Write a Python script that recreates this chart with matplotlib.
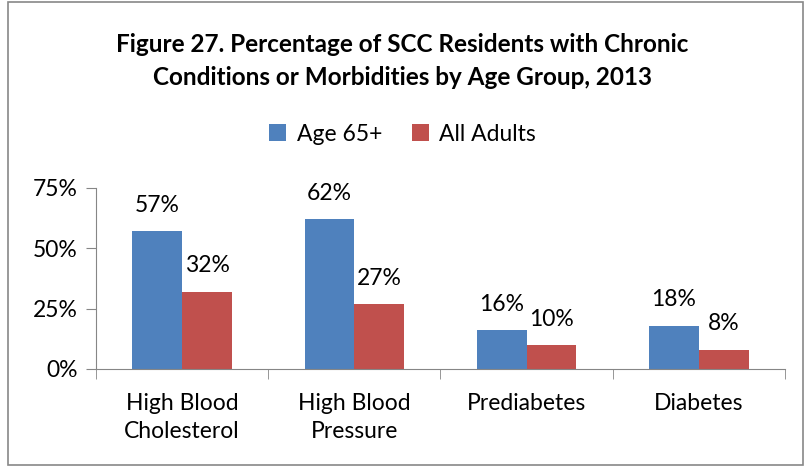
import matplotlib.pyplot as plt
import numpy as np
from matplotlib.patches import Rectangle

categories = ['High Blood\nCholesterol', 'High Blood\nPressure', 'Prediabetes', 'Diabetes']
age65 = [57, 62, 16, 18]
all_adults = [32, 27, 10, 8]
series_names = ['Age 65+', 'All Adults']
colors = ['#4F81BD', '#C0504D']

plt.rcParams['font.family'] = ['Lato', 'DejaVu Sans']

fig = plt.figure(figsize=(8.05, 4.67), dpi=100)
ax = fig.add_axes([0.1193, 0.2099, 0.8557, 0.3876])

x = np.arange(len(categories))
w = 0.289
ax.bar(x - w / 2, age65, w, color=colors[0], label=series_names[0])
ax.bar(x + w / 2, all_adults, w, color=colors[1], label=series_names[1])

for xi, v in zip(x - w / 2, age65):
    ax.annotate(f'{v}%', (xi, v), xytext=(0, 11), textcoords='offset points',
                ha='center', va='bottom', fontsize=16.5)
for xi, v in zip(x + w / 2, all_adults):
    ax.annotate(f'{v}%', (xi, v), xytext=(0, 11), textcoords='offset points',
                ha='center', va='bottom', fontsize=16.5)

ax.set_xlim(-0.5, len(categories) - 0.5)
ax.set_ylim(0, 75)
ax.set_yticks([0, 25, 50, 75])
ax.set_yticklabels(['0%', '25%', '50%', '75%'], fontsize=16.5)
ax.set_xticks(x)
ax.set_xticklabels(categories, fontsize=16.5, linespacing=1.45)
ax.tick_params(axis='x', length=0, pad=17)
ax.set_xticks(np.arange(len(categories) + 1) - 0.5, minor=True)
ax.tick_params(axis='x', which='minor', length=7, color='#868686')
ax.tick_params(axis='y', length=7, color='#868686', pad=6)
for s in ['top', 'right']:
    ax.spines[s].set_visible(False)
for s in ['left', 'bottom']:
    ax.spines[s].set_color('#868686')

fig.text(0.5, 0.869, 'Figure 27. Percentage of SCC Residents with Chronic\nConditions or Morbidities by Age Group, 2013',
         ha='center', va='center', fontsize=17.5, fontweight='bold', linespacing=1.55)

fig.legend(loc='center', bbox_to_anchor=(0.5, 0.713), ncol=2, frameon=False,
           fontsize=16.5, handlelength=0.75, handleheight=0.75, columnspacing=1.3, handletextpad=0.45)

fig.patches.append(Rectangle((0.01, 0.004), 0.987, 0.992, transform=fig.transFigure,
                             fill=False, edgecolor='#888888', linewidth=1.2))

fig.savefig('out.png', dpi=100)
